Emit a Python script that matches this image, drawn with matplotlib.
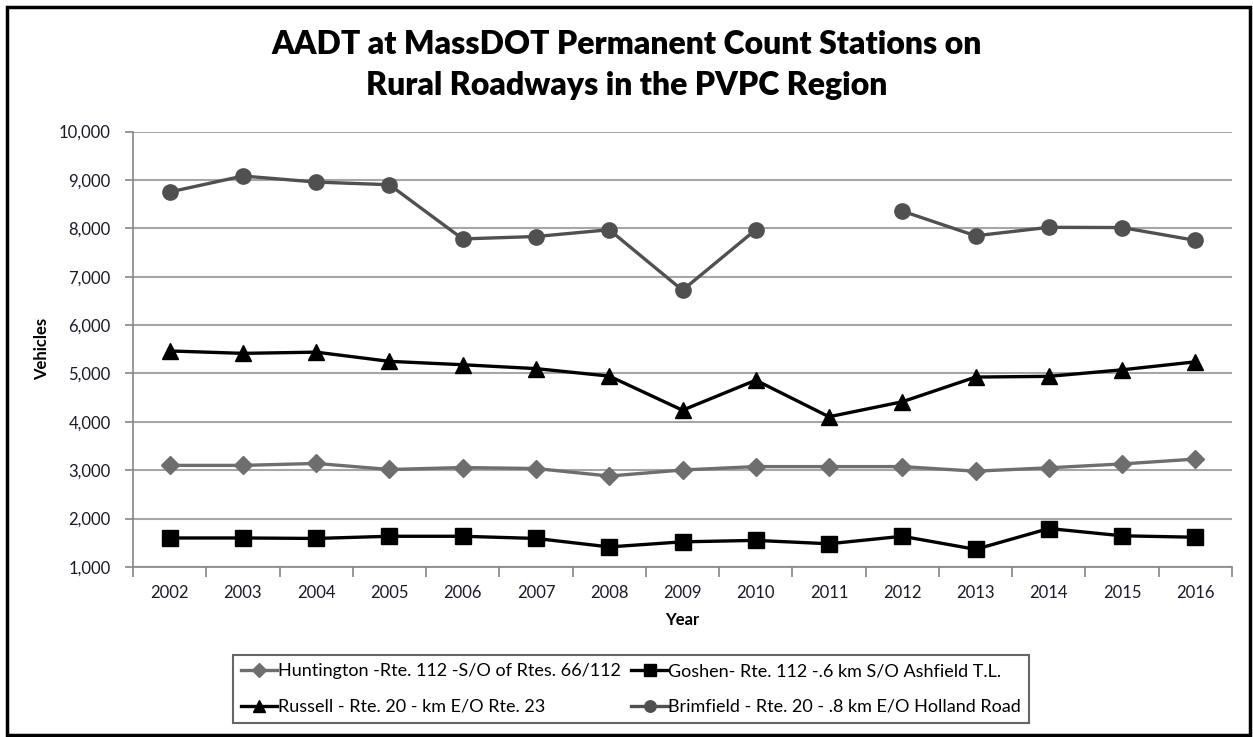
import numpy as np
import matplotlib.pyplot as plt
from matplotlib.patches import Rectangle
from matplotlib.ticker import FuncFormatter

plt.rcParams['font.family'] = ['Lato', 'DejaVu Sans']

years = ['2002', '2003', '2004', '2005', '2006', '2007', '2008', '2009',
         '2010', '2011', '2012', '2013', '2014', '2015', '2016']
huntington = [3100, 3100, 3140, 3015, 3055, 3035, 2880, 3005,
              3075, 3075, 3075, 2980, 3050, 3130, 3230]
goshen = [1600, 1600, 1590, 1635, 1635, 1590, 1415, 1520,
          1550, 1480, 1635, 1365, 1795, 1645, 1615]
russell = [5465, 5415, 5440, 5250, 5180, 5100, 4945, 4240,
           4860, 4105, 4415, 4925, 4940, 5075, 5240]
brimfield = [8750, 9080, 8955, 8900, 7780, 7830, 7970, 6720,
             7970, np.nan, 8355, 7845, 8020, 8015, 7750]

W, H = 1253, 737
fig = plt.figure(figsize=(W / 100, H / 100), dpi=100)
ax = fig.add_axes([133 / W, 1 - 567 / H, (1232 - 133) / W, (567 - 131.5) / H])

x = np.arange(len(years))
l_hunt, = ax.plot(x, huntington, color='#6e6e6e', lw=2.4, marker='D', ms=9,
                  label='Huntington -Rte. 112 -S/O of Rtes. 66/112', zorder=3)
l_gosh, = ax.plot(x, goshen, color='black', lw=2.4, marker='s', ms=11,
                  label='Goshen- Rte. 112 -.6 km S/O Ashfield T.L.', zorder=3)
l_russ, = ax.plot(x, russell, color='black', lw=2.4, marker='^', ms=11,
                  label='Russell - Rte. 20 - km E/O Rte. 23', zorder=3)
l_brim, = ax.plot(x, brimfield, color='#505050', lw=2.4, marker='o', ms=11,
                  label='Brimfield - Rte. 20 - .8 km E/O Holland Road', zorder=3)

ax.set_xlim(-0.5, len(years) - 0.5)
ax.set_ylim(1000, 10000)
ax.set_yticks(np.arange(1000, 10001, 1000))
ax.yaxis.set_major_formatter(FuncFormatter(lambda v, p: f'{int(v):,}'))
ax.set_xticks(x)
ax.set_xticklabels(years)
ax.set_xticks(np.arange(-0.5, len(years), 1), minor=True)
ax.tick_params(axis='x', which='major', length=0, pad=13, labelsize=12, labelcolor='#1a1a2a')
ax.tick_params(axis='x', which='minor', length=7, width=1.2, color='#868686')
ax.tick_params(axis='y', length=6, width=1.2, color='#868686', pad=10,
               labelsize=12, labelcolor='#1a1a2a')

ax.grid(axis='y', color='#a6a6a6', lw=1.5, zorder=0)
ax.set_axisbelow(True)
for side in ('top', 'right'):
    ax.spines[side].set_visible(False)
for side in ('left', 'bottom'):
    ax.spines[side].set_color('#868686')
    ax.spines[side].set_linewidth(1.2)

ax.set_ylabel('Vehicles', fontsize=12, fontweight='bold', labelpad=6)
ax.set_xlabel('Year', fontsize=12, fontweight='bold', labelpad=8)

fig.text(0.5, 1 - 45 / H, 'AADT at MassDOT Permanent Count Stations on',
         ha='center', va='center', fontsize=23, fontweight='heavy')
fig.text(0.5, 1 - 86 / H, 'Rural Roadways in the PVPC Region',
         ha='center', va='center', fontsize=23, fontweight='heavy')

leg = fig.legend(handles=[l_hunt, l_russ, l_gosh, l_brim], ncol=2,
                 loc='center', bbox_to_anchor=(631 / W, 1 - 689 / H),
                 fontsize=13, frameon=True, fancybox=False, handlelength=2.0,
                 handletextpad=0.05, columnspacing=0.6, borderpad=0.45,
                 borderaxespad=0, labelspacing=1.1, markerscale=0.75)
leg.get_frame().set_edgecolor('#404040')
leg.get_frame().set_linewidth(1.5)

fig.patches.append(Rectangle((7 / W, 1 - 735 / H), (1250 - 7) / W, (735 - 7) / H,
                             transform=fig.transFigure, fill=False,
                             edgecolor='black', lw=2.5))

fig.savefig('out.png', dpi=100)
